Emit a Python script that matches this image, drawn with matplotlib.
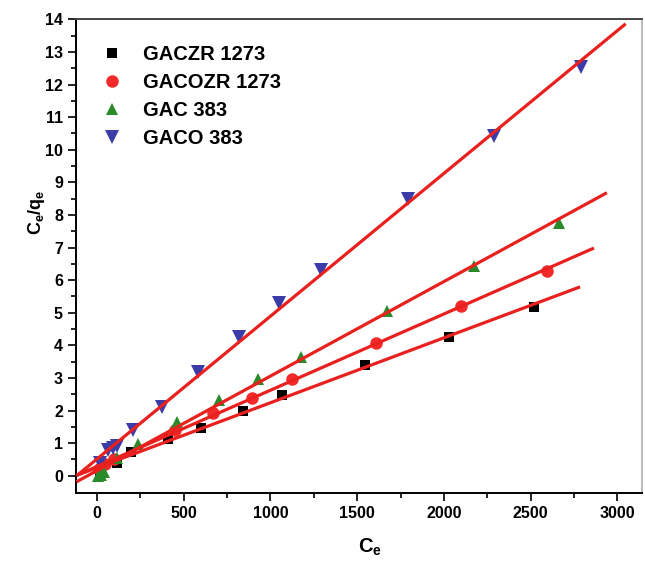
import numpy as np
import matplotlib
matplotlib.use("Agg")
import matplotlib.pyplot as plt

plt.rcParams['font.family'] = ['Liberation Sans', 'DejaVu Sans']
plt.rcParams['font.weight'] = 'bold'
plt.rcParams['mathtext.fontset'] = 'custom'
plt.rcParams['mathtext.rm'] = 'Liberation Sans:bold'
plt.rcParams['mathtext.bf'] = 'Liberation Sans:bold'

# Ce vs Ce/qe
gaczr_x = [20, 115, 195, 408, 598, 839, 1069, 1546, 2029, 2517]
gaczr_y = [0.10, 0.38, 0.72, 1.13, 1.47, 1.99, 2.48, 3.39, 4.25, 5.17]

gacozr_x = [10, 45, 100, 448, 669, 893, 1127, 1609, 2098, 2592]
gacozr_y = [0.20, 0.35, 0.50, 1.40, 1.93, 2.40, 2.97, 4.07, 5.20, 6.27]

gac_x = [5, 23, 40, 115, 236, 460, 701, 931, 1178, 1672, 2172, 2661]
gac_y = [0.00, 0.03, 0.12, 0.55, 0.97, 1.65, 2.32, 2.97, 3.64, 5.05, 6.42, 7.74]

gaco_x = [17, 63, 90, 115, 210, 374, 580, 816, 1052, 1293, 1793, 2287, 2787]
gaco_y = [0.40, 0.80, 0.85, 0.90, 1.40, 2.10, 3.18, 4.25, 5.29, 6.32, 8.50, 10.43, 12.54]

# x-range of each linear fit line
fit_start = [-110, -110, -110, -110]
fit_end = [2776, 2856, 2931, 3040]

series = [
    ("GACZR 1273", gaczr_x, gaczr_y, 's', 'black', 7),
    ("GACOZR 1273", gacozr_x, gacozr_y, 'o', '#f22a2a', 9),
    ("GAC 383", gac_x, gac_y, '^', '#2a8a2a', 9),
    ("GACO 383", gaco_x, gaco_y, 'v', '#3c3ca8', 10),
]

fig = plt.figure(figsize=(6.45, 5.69), dpi=100)
ax = fig.add_axes([0.118, 0.134, 0.877, 0.832])

for i, (name, x, y, m, c, ms) in enumerate(series):
    ax.plot(x, y, linestyle='none', marker=m, color=c, markersize=ms,
            markeredgewidth=0, label=name, zorder=2)

for i, (name, x, y, m, c, ms) in enumerate(series):
    slope, icept = np.polyfit(x, y, 1)
    xs = np.array([fit_start[i], fit_end[i]])
    ax.plot(xs, slope * xs + icept, color='#e8211f', linewidth=2.3, zorder=3)

ax.set_xticks(np.arange(0, 3001, 500))
ax.set_xticks(np.arange(250, 3140, 500), minor=True)
ax.set_yticks(np.arange(0, 15, 1))
ax.set_yticks(np.arange(0.5, 14.0, 1.0), minor=True)
ax.set_xlim(-120, 3140)
ax.set_ylim(-0.52, 14)
ax.tick_params(which='major', direction='out', length=6, width=1.2, labelsize=11.5)
ax.tick_params(which='minor', direction='out', length=3.5, width=1.2)
ax.tick_params(top=False, right=False)
for s in ax.spines.values():
    s.set_linewidth(1.4)
ax.spines['top'].set_color('#444444')
ax.spines['right'].set_color('#bbbbbb')

ax.set_xlabel(r'$\mathbf{C_e}$', fontsize=14.5)
ax.xaxis.set_label_coords(0.519, -0.093)
ax.set_ylabel(r'$\mathbf{C_e/q_e}$', fontsize=13)
ax.yaxis.set_label_coords(-0.051, 0.593)

ax.legend(loc='upper left', bbox_to_anchor=(0.01, 0.975), frameon=False,
          fontsize=14.5, handletextpad=0.75, labelspacing=0.45,
          borderaxespad=0.3, handlelength=1.6)

fig.savefig("out.png", dpi=100)
